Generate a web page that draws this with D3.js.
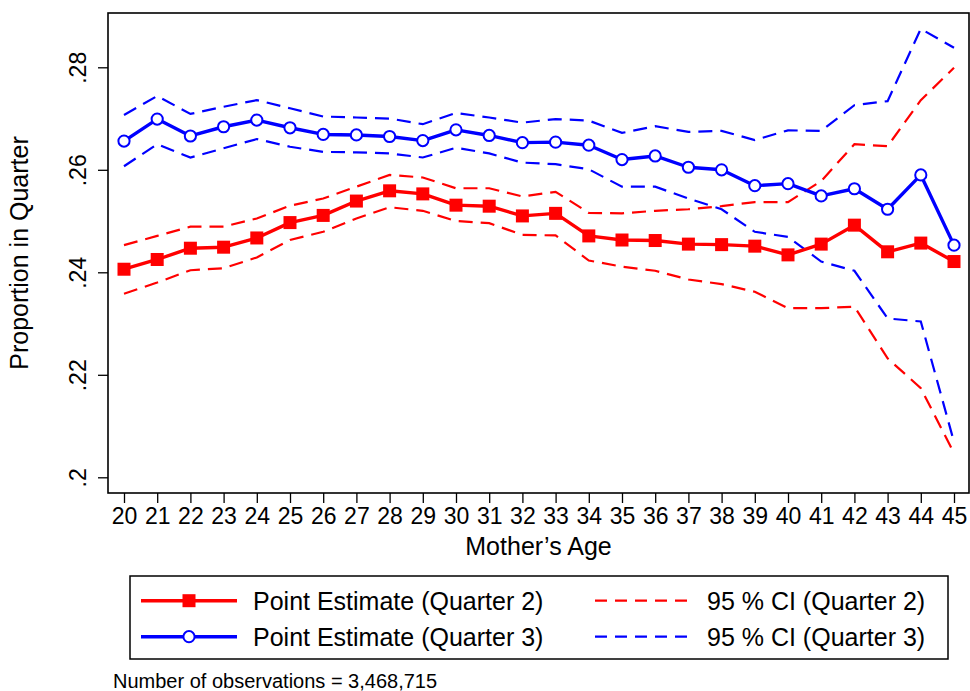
<!DOCTYPE html>
<html>
<head>
<meta charset="utf-8">
<script src="https://cdn.jsdelivr.net/npm/d3@7"></script>
<style>
  html, body { margin: 0; padding: 0; background: #fff; }
  svg { display: block; }
  text { font-family: "Liberation Sans", Arial, Helvetica, sans-serif; fill: #000; }
</style>
</head>
<body>
<svg id="chart" width="970" height="691"></svg>
<script>
// ---- data ----
const ages = [20,21,22,23,24,25,26,27,28,29,30,31,32,33,34,35,36,37,38,39,40,41,42,43,44,45];
const q2Point = [0.2406,0.2425,0.2447,0.2449,0.2467,0.2497,0.2511,0.2539,0.2559,0.2553,0.2531,0.2529,0.2510,0.2515,0.2471,0.2463,0.2462,0.2455,0.2454,0.2451,0.2434,0.2455,0.2492,0.2440,0.2457,0.2421];
const q2Upper = [0.2453,0.2471,0.2489,0.2489,0.2505,0.2530,0.2544,0.2567,0.2590,0.2585,0.2564,0.2564,0.2548,0.2557,0.2516,0.2515,0.2520,0.2523,0.2529,0.2537,0.2537,0.2578,0.2650,0.2646,0.2736,0.2799];
const q2Lower = [0.2358,0.2380,0.2404,0.2408,0.2429,0.2463,0.2479,0.2505,0.2527,0.2520,0.2500,0.2496,0.2473,0.2472,0.2423,0.2411,0.2403,0.2386,0.2377,0.2362,0.2330,0.2330,0.2333,0.2232,0.2174,0.2047];
const q3Point = [0.2656,0.2699,0.2666,0.2684,0.2697,0.2682,0.2669,0.2668,0.2665,0.2657,0.2678,0.2667,0.2653,0.2654,0.2648,0.2620,0.2627,0.2605,0.2600,0.2569,0.2573,0.2549,0.2563,0.2523,0.2590,0.2453];
const q3Upper = [0.2707,0.2744,0.2709,0.2723,0.2736,0.2720,0.2704,0.2702,0.2700,0.2689,0.2711,0.2702,0.2692,0.2699,0.2696,0.2672,0.2685,0.2674,0.2676,0.2658,0.2677,0.2676,0.2726,0.2734,0.2875,0.2838];
const q3Lower = [0.2607,0.2650,0.2624,0.2642,0.2660,0.2645,0.2635,0.2634,0.2632,0.2624,0.2643,0.2632,0.2614,0.2611,0.2601,0.2567,0.2567,0.2544,0.2523,0.2479,0.2469,0.2421,0.2403,0.2310,0.2304,0.2069];
const yTicks = [0.20,0.22,0.24,0.26,0.28];
const yTickLabels = [".2",".22",".24",".26",".28"];
const legendLabels = ["Point Estimate (Quarter 2)","Point Estimate (Quarter 3)","95 % CI (Quarter 2)","95 % CI (Quarter 3)"];
const xTitle = "Mother\u2019s Age";
const yTitle = "Proportion in Quarter";
const noteText = "Number of observations = 3,468,715";

// ---- layout ----
const RED = "#ff0000", BLUE = "#0000ff";
const frame = {left: 108, top: 13, right: 969, bottom: 493};
const svg = d3.select("#chart");
const x = d3.scaleLinear().domain([20,45]).range([124,954]);
const y = d3.scaleLinear().domain([0.20,0.28]).range([477.3,67.3]);

// frame
svg.append("rect")
  .attr("x", frame.left).attr("y", frame.top)
  .attr("width", frame.right - frame.left).attr("height", frame.bottom - frame.top)
  .attr("fill", "none").attr("stroke", "#000").attr("stroke-width", 1.6);

// x axis
const xAxis = svg.append("g").attr("transform", `translate(0,${frame.bottom})`)
  .call(d3.axisBottom(x).tickValues(ages).tickFormat(d3.format("d")).tickSize(10).tickPadding(5));
xAxis.select(".domain").remove();
xAxis.selectAll(".tick line").attr("stroke", "#000").attr("stroke-width", 1.3);
xAxis.selectAll(".tick text").attr("font-size", 23).attr("font-family", null);

// y axis
const yAxis = svg.append("g").attr("transform", `translate(${frame.left},0)`)
  .call(d3.axisLeft(y).tickValues(yTicks).tickFormat((d,i) => yTickLabels[i]).tickSize(10));
yAxis.select(".domain").remove();
yAxis.selectAll(".tick line").attr("stroke", "#000").attr("stroke-width", 1.3);
yAxis.selectAll(".tick text")
  .attr("font-size", 23).attr("font-family", null)
  .attr("x", null).attr("dy", null)
  .attr("text-anchor", "middle")
  .attr("transform", "translate(-22,0) rotate(-90)");

// titles
svg.append("text").attr("x", (frame.left + frame.right) / 2).attr("y", 555)
  .attr("text-anchor", "middle").attr("font-size", 25).text(xTitle);
svg.append("text").attr("transform", `translate(28,${(frame.top + frame.bottom) / 2}) rotate(-90)`)
  .attr("text-anchor", "middle").attr("font-size", 25).text(yTitle);

// series
const line = vals => d3.line().x((d,i) => x(ages[i])).y(d => y(d))(vals);
const plot = svg.append("g");
function dashed(vals, color) {
  plot.append("path").attr("d", line(vals)).attr("fill", "none")
    .attr("stroke", color).attr("stroke-width", 2.2).attr("stroke-dasharray", "14,8");
}
dashed(q2Upper, RED); dashed(q2Lower, RED);
dashed(q3Upper, BLUE); dashed(q3Lower, BLUE);

plot.append("path").attr("d", line(q2Point)).attr("fill", "none")
  .attr("stroke", RED).attr("stroke-width", 3.4).attr("stroke-linejoin", "round");
plot.selectAll(".sq").data(q2Point).enter().append("rect")
  .attr("x", (d,i) => x(ages[i]) - 6.5).attr("y", d => y(d) - 6.5)
  .attr("width", 13).attr("height", 13).attr("fill", RED);

plot.append("path").attr("d", line(q3Point)).attr("fill", "none")
  .attr("stroke", BLUE).attr("stroke-width", 3.4).attr("stroke-linejoin", "round");
plot.selectAll(".ci").data(q3Point).enter().append("circle")
  .attr("cx", (d,i) => x(ages[i])).attr("cy", d => y(d)).attr("r", 5.6)
  .attr("fill", "#fff").attr("stroke", BLUE).attr("stroke-width", 2);

// legend
const lg = svg.append("g");
lg.append("rect").attr("x", 130).attr("y", 576).attr("width", 818).attr("height", 83)
  .attr("fill", "#fff").attr("stroke", "#000").attr("stroke-width", 1.5);
const rows = [600.7, 636.7];
// point estimate keys
lg.append("line").attr("x1", 141).attr("x2", 237).attr("y1", rows[0]).attr("y2", rows[0])
  .attr("stroke", RED).attr("stroke-width", 3.4);
lg.append("rect").attr("x", 189 - 6.5).attr("y", rows[0] - 6.5).attr("width", 13).attr("height", 13).attr("fill", RED);
lg.append("line").attr("x1", 141).attr("x2", 237).attr("y1", rows[1]).attr("y2", rows[1])
  .attr("stroke", BLUE).attr("stroke-width", 3.4);
lg.append("circle").attr("cx", 189).attr("cy", rows[1]).attr("r", 5.6)
  .attr("fill", "#fff").attr("stroke", BLUE).attr("stroke-width", 2);
// CI keys
[[RED, rows[0]], [BLUE, rows[1]]].forEach(([c, yy]) => {
  lg.append("line").attr("x1", 595).attr("x2", 692).attr("y1", yy).attr("y2", yy)
    .attr("stroke", c).attr("stroke-width", 2.2).attr("stroke-dasharray", "12,8");
});
const legPos = [[253, rows[0]], [253, rows[1]], [707, rows[0]], [707, rows[1]]];
legendLabels.forEach((t, i) => {
  lg.append("text").attr("x", legPos[i][0]).attr("y", legPos[i][1] + 9)
    .attr("font-size", 25).text(t);
});

// note
svg.append("text").attr("x", 113).attr("y", 688).attr("font-size", 20).text(noteText);
</script>
</body>
</html>
